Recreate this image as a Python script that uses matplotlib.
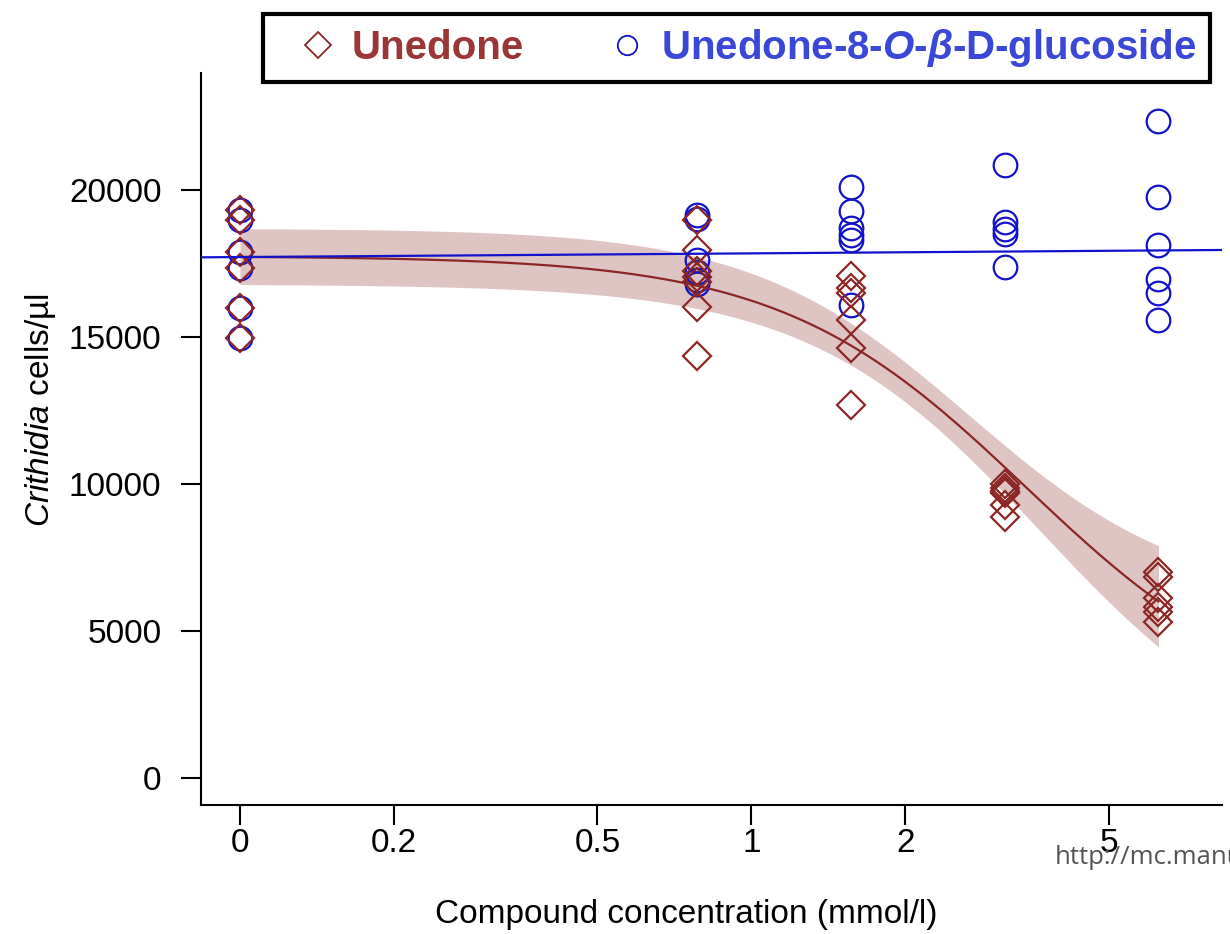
import numpy as np
import matplotlib
matplotlib.use("Agg")
import matplotlib.pyplot as plt
from matplotlib.lines import Line2D
from matplotlib.ticker import FixedLocator, NullLocator

plt.rcParams['font.family'] = ['Liberation Sans', 'DejaVu Sans']
plt.rcParams['mathtext.fontset'] = 'custom'
plt.rcParams['mathtext.it'] = 'Liberation Sans:italic'
plt.rcParams['mathtext.bfit'] = 'Liberation Sans:italic:bold'
plt.rcParams['mathtext.rm'] = 'Liberation Sans'

# ---------------- data ----------------
doses = [0, 0.78125, 1.5625, 3.125, 6.25]          # mmol/l
zero_position = 0.1                                 # where "0" sits on the log axis

unedone_values = [
    [19320, 18980, 17890, 17350, 15990, 14970],
    [18980, 17960, 17230, 17050, 16880, 16030, 14360],
    [17070, 16670, 16500, 15580, 14610, 12690],
    [10000, 9860, 9760, 9690, 9290, 8890],
    [7000, 6840, 6120, 5820, 5650, 5310],
]
glucoside_values = [
    [19320, 18980, 17890, 17350, 15990, 14970],
    [19150, 19000, 17620, 17220, 16940, 16800],
    [20100, 19290, 18710, 18470, 18300, 16090],
    [20850, 18900, 18680, 18500, 17390],
    [22350, 19760, 18130, 16970, 16500, 15580],
]

# fitted four-parameter log-logistic model for unedone (lower c, upper d, slope b, ED50 e)
unedone_fit = dict(c=2000, d=17750, b=1.81, e=3.45)
unedone_ci_upper = dict(c=6000, d=18700, b=2.03, e=2.66)
unedone_ci_lower = dict(c=0, d=16800, b=1.91, e=3.67)
# fitted (flat) model for the glucoside: intercept and slope on log10 dose
glucoside_fit = dict(a=17845, b=125)

x_ticks = [0.1, 0.2, 0.5, 1, 2, 5]
x_tick_labels = ["0", "0.2", "0.5", "1", "2", "5"]
y_ticks = [0, 5000, 10000, 15000, 20000]

red = "#8b2626"
blue = "#1212cc"

def loglogistic(x, c, d, b, e):
    return c + (d - c) / (1.0 + (x / e) ** b)

# ---------------- figure ----------------
W, H = 1230, 934
fig = plt.figure(figsize=(W / 100, H / 100), dpi=100)
ax = fig.add_axes([201 / W, (H - 805) / H, (1222 - 201) / W, (805 - 73) / H])
ax.set_xscale('log')
ax.set_xlim(0.0839, 8.32)
ax.set_ylim(-918, 23980)

plot_x = [zero_position if d == 0 else d for d in doses]

xs = np.logspace(np.log10(zero_position), np.log10(doses[-1]), 300)
ax.fill_between(xs, loglogistic(xs, **unedone_ci_lower), loglogistic(xs, **unedone_ci_upper),
                color=red, alpha=0.27, linewidth=0, zorder=1)

for px, vals in zip(plot_x, glucoside_values):
    ax.plot([px] * len(vals), vals, linestyle='none', marker='o', markersize=17,
            markerfacecolor='none', markeredgecolor=blue, markeredgewidth=1.6, zorder=3)
for px, vals in zip(plot_x, unedone_values):
    ax.plot([px] * len(vals), vals, linestyle='none', marker='D', markersize=14.5,
            markerfacecolor='none', markeredgecolor=red, markeredgewidth=1.6, zorder=4)

ax.plot(xs, loglogistic(xs, **unedone_fit), color=red, linewidth=1.6, zorder=5)
xl = np.logspace(np.log10(0.0839), np.log10(8.32), 50)
ax.plot(xl, glucoside_fit['a'] + glucoside_fit['b'] * np.log10(xl), color=blue,
        linewidth=1.6, zorder=5)

# axes styling
for s in ['top', 'right']:
    ax.spines[s].set_visible(False)
for s in ['left', 'bottom']:
    ax.spines[s].set_linewidth(1.5)
ax.xaxis.set_major_locator(FixedLocator(x_ticks))
ax.xaxis.set_minor_locator(NullLocator())
ax.set_xticklabels(x_tick_labels)
ax.set_yticks(y_ticks)
ax.tick_params(axis='both', direction='out', length=14.5, width=1.5, labelsize=24)
ax.tick_params(axis='x', pad=2)
ax.tick_params(axis='y', pad=14)

ax.set_xlabel("Compound concentration (mmol/l)", fontsize=24, labelpad=29)
ax.xaxis.label.set_x(0.475)
ax.set_ylabel("$\\mathit{Crithidia}$ cells/µl", fontsize=24, labelpad=8)
ax.yaxis.label.set_y(0.54)

# legend
handles = [
    Line2D([], [], linestyle='none', marker='D', markersize=13, markerfacecolor='none',
           markeredgecolor=red, markeredgewidth=1.3),
    Line2D([], [], linestyle='none', marker='o', markersize=14, markerfacecolor='none',
           markeredgecolor=blue, markeredgewidth=1.3),
]
labels = ["Unedone", "Unedone-8-$\\mathbfit{O}$-$\\mathbfit{β}$-D-glucoside"]
leg = fig.legend(handles, labels, loc='upper left', bbox_to_anchor=(263 / W, 1 - 14 / H),
                 ncol=2, frameon=True, fancybox=False, framealpha=1,
                 prop={'size': 29, 'weight': 'bold'},
                 handlelength=2.09, handletextpad=-0.2, columnspacing=1.51,
                 borderpad=0.32, borderaxespad=0)
leg.get_frame().set_edgecolor('black')
leg.get_frame().set_linewidth(3)
leg.texts[0].set_color('#9a3636')
leg.texts[1].set_color('#3b47d6')

fig.text(1055 / W, 1 - 858 / H, "http://mc.manu", fontsize=18.5, color='#555555',
         va='center', ha='left', family=['Open Sans', 'DejaVu Sans'])

fig.savefig("out.png", dpi=100)
